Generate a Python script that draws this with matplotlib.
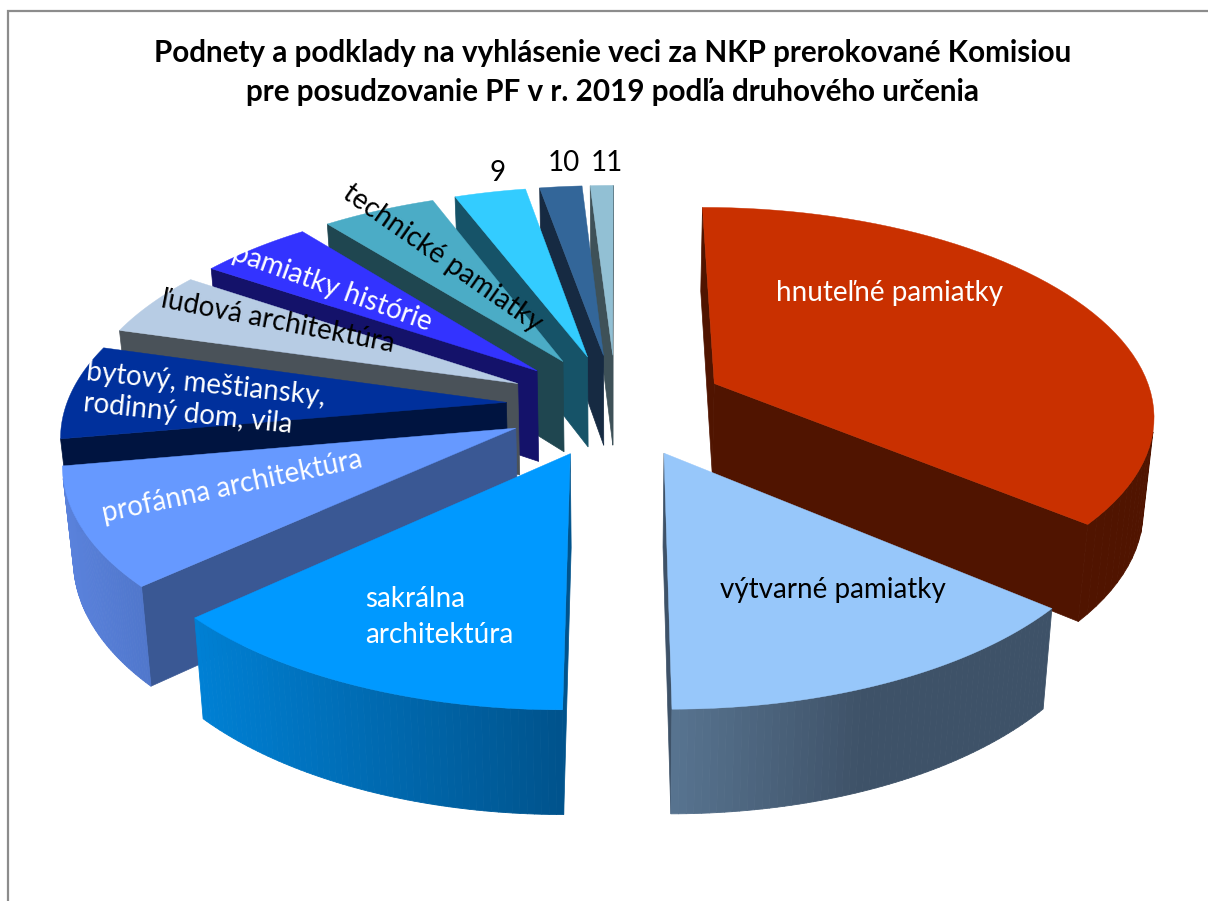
import numpy as np
import matplotlib
matplotlib.use('Agg')
from matplotlib import pyplot as plt
from matplotlib.collections import PolyCollection

# Share of each type (72 = full circle).
CATEGORIES = ['hnuteľné pamiatky', 'výtvarné pamiatky', 'sakrálna architektúra',
              'profánna architektúra', 'bytový, meštiansky, rodinný dom, vila',
              'ľudová architektúra', 'pamiatky histórie', 'technické pamiatky',
              '9', '10', '11']
VALUES = [26, 10, 9.5, 6.5, 5.2, 3.6, 3.5, 3.5, 2.2, 1.3, 0.7]

TOP_COLORS = ['#C93000', '#97C7FA', '#0099FF', '#6699FF', '#00309C', '#B7CCE4',
              '#3333FF', '#4BACC6', '#33CCFF', '#336699', '#92C0D4']
FACE_COLORS = ['#501400', '#3E5268', '#00538C', '#3A5894', '#001440', '#4A5259',
               '#14126A', '#1F4650', '#165368', '#162A42', '#3E5158']
WALL_LEFT = ['#501400', '#587490', '#0080D4', '#5A82DC', '#001440', '#4A5259',
             '#14126A', '#1F4650', '#165368', '#162A42', '#3E5158']
WALL_RIGHT = ['#501400', '#3E5268', '#00538C', '#5077CC', '#001440', '#4A5259',
              '#14126A', '#1F4650', '#165368', '#162A42', '#3E5158']
# Where along the wall the gradient reaches its right colour.
WALL_STOP = [1, 0.5, 1, 1, 1, 1, 1, 1, 1, 1, 1]

TITLE = 'Podnety a podklady na vyhlásenie veci za NKP prerokované Komisiou\npre posudzovanie PF v r. 2019 podľa druhového určenia'

# Pie camera, in pixels of the figure.
CX, CY = 616, 405
A, B = 440, 206
PERSP = 0.138
DEPTH = 92
SHRINK = 0.02
EXPLODE = 0.25

plt.rcParams['font.family'] = ['Lato', 'DejaVu Sans']


def project(x, y, z):
    s = 1 / (1 + PERSP * y)
    return CX + A * x * s * (1 - SHRINK * z), CY - B * y * s * (1 - SHRINK * z) + DEPTH * z * s


def area(pts):
    pts = np.array(pts)
    xs, ys = pts[:, 0], pts[:, 1]
    return np.sum(xs * np.roll(ys, -1) - np.roll(xs, -1) * ys)


def mix(c1, c2, t):
    c1 = np.array(matplotlib.colors.to_rgb(c1))
    c2 = np.array(matplotlib.colors.to_rgb(c2))
    return c1 + (c2 - c1) * t


fig = plt.figure(figsize=(12.08, 9.01), dpi=100)
ax = fig.add_axes([0, 0, 1, 1])
ax.set_xlim(0, 1208)
ax.set_ylim(901, 0)
ax.axis('off')

# Chart frame.
ax.plot([8, 8, 1208], [901, 11, 11], color='#8C8C8C', lw=1.6, solid_joinstyle='miter')

angles = np.cumsum([0] + VALUES) / sum(VALUES) * 2 * np.pi
mids = (angles[:-1] + angles[1:]) / 2

# Paint from the back of the pie to the front.
for i in np.argsort(-np.cos(mids)):
    t = np.linspace(angles[i], angles[i + 1], 60)
    ox, oy = EXPLODE * np.sin(mids[i]), EXPLODE * np.cos(mids[i])
    xs, ys = ox + np.sin(t), oy + np.cos(t)

    apex_top = project(ox, oy, 0)
    apex_bot = project(ox, oy, 1)
    rim_top = [project(x, y, 0) for x, y in zip(xs, ys)]
    rim_bot = [project(x, y, 1) for x, y in zip(xs, ys)]

    # Cut faces, only those turned towards the viewer.
    first = [apex_top, rim_top[0], rim_bot[0], apex_bot]
    last = [apex_top, rim_top[-1], rim_bot[-1], apex_bot]
    if area(first) < 0:
        ax.fill(*zip(*first), color=FACE_COLORS[i], lw=0.5)
    if area(last) > 0:
        ax.fill(*zip(*last), color=FACE_COLORS[i], lw=0.5)

    # Outer wall with a left to right gradient, front part only.
    quads, cols = [], []
    px = [p[0] for p in rim_top]
    for k in range(len(t) - 1):
        quad = [rim_top[k], rim_top[k + 1], rim_bot[k + 1], rim_bot[k]]
        if area(quad) > 0:
            continue
        quads.append(quad)
        frac = ((px[k] + px[k + 1]) / 2 - min(px)) / max(max(px) - min(px), 1)
        cols.append(mix(WALL_LEFT[i], WALL_RIGHT[i], min(frac / WALL_STOP[i], 1)))
    ax.add_collection(PolyCollection(quads, facecolors=cols, edgecolors=cols, linewidths=0.6))

    ax.fill(*zip(*([apex_top] + rim_top)), color=TOP_COLORS[i], lw=0.3)

# Title and labels.
ax.text(613, 72.5, TITLE, ha='center', va='center', fontsize=21.3, fontweight='bold',
        linespacing=1.5, color='black')

LABEL_SIZE = 20
ax.text(889, 293, 'hnuteľné pamiatky', color='white', fontsize=LABEL_SIZE, ha='center', va='center')
ax.text(833, 590, 'výtvarné pamiatky', color='black', fontsize=LABEL_SIZE, ha='center', va='center')
ax.text(365, 617, 'sakrálna\narchitektúra', color='white', fontsize=LABEL_SIZE, ha='left', va='center', linespacing=1.45)
ax.text(232, 487, 'profánna architektúra', color='white', fontsize=LABEL_SIZE, ha='center', va='center',
        rotation=12, rotation_mode='anchor')
ax.text(204, 400, 'bytový, meštiansky,\nrodinný dom, vila', color='white', fontsize=LABEL_SIZE, ha='center', va='center',
        rotation=-6, rotation_mode='anchor', linespacing=1.25, multialignment='left')
ax.text(278, 322, 'ľudová architektúra', color='black', fontsize=LABEL_SIZE, ha='center', va='center',
        rotation=-11, rotation_mode='anchor')
ax.text(332, 288, 'pamiatky histórie', color='white', fontsize=LABEL_SIZE, ha='center', va='center',
        rotation=-20, rotation_mode='anchor')
ax.text(442, 258, 'technické pamiatky', color='black', fontsize=LABEL_SIZE, ha='center', va='center',
        rotation=-35, rotation_mode='anchor')
ax.text(498, 173, CATEGORIES[8], color='black', fontsize=LABEL_SIZE, ha='center', va='center')
ax.text(564, 163, CATEGORIES[9], color='black', fontsize=LABEL_SIZE, ha='center', va='center')
ax.text(607, 163, CATEGORIES[10], color='black', fontsize=LABEL_SIZE, ha='center', va='center')

plt.savefig('out.png', dpi=100)
